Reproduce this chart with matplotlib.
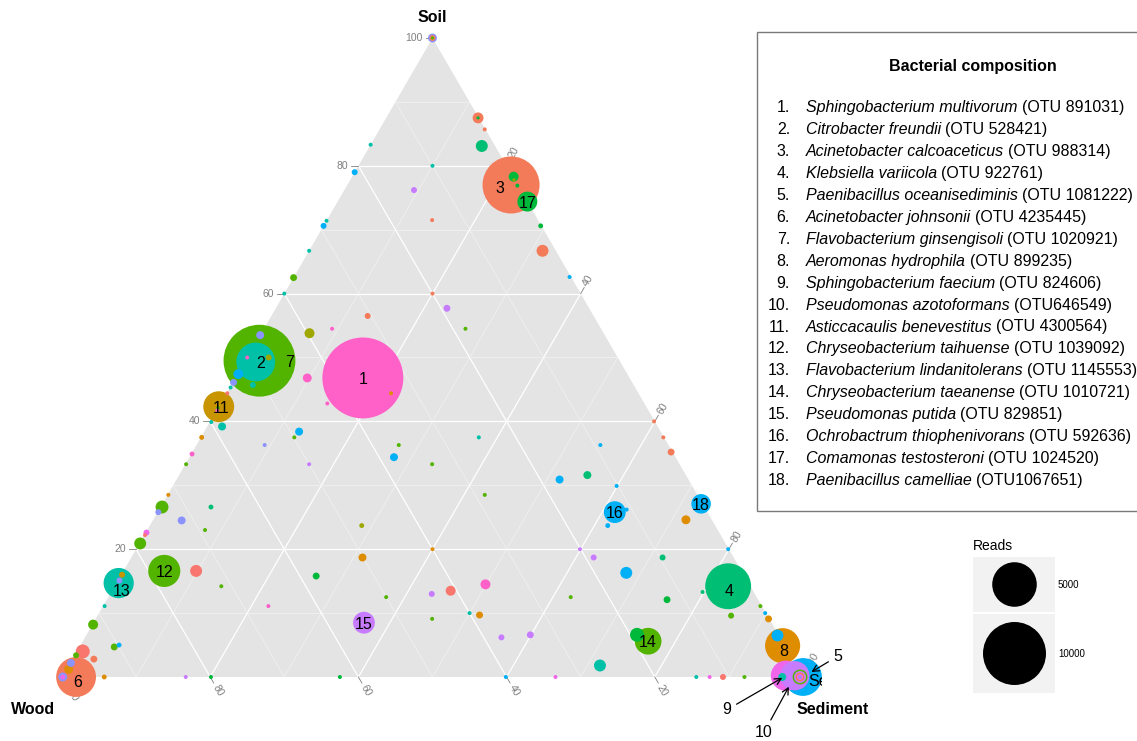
import numpy as np
import matplotlib
matplotlib.use('Agg')
import matplotlib.pyplot as plt
from matplotlib.patches import Rectangle, Polygon
from matplotlib.transforms import Bbox

plt.rcParams['font.family'] = ['Liberation Sans', 'DejaVu Sans']

# ---- named OTUs (soil %, sediment %, wood = rest) ----
otu_ids = list(range(1, 19))
otu_soil = [46.8, 49.3, 77.0, 14.2, 0.0, 0.0, 49.5, 4.9, 0.2, 0.2,
            42.3, 16.6, 14.7, 5.6, 8.5, 25.8, 74.4, 27.1]
otu_sed = [17.2, 1.5, 22.1, 82.8, 100.0, 1.9, 1.9, 94.8, 97.6, 98.8,
           0.0, 5.5, 0.3, 76.3, 36.5, 61.7, 25.6, 72.7]
otu_reads = [16500, 3800, 8200, 5300, 3600, 4000, 13000, 3100, 2300, 2150,
             2400, 2600, 2300, 1800, 1200, 1200, 1000, 960]
otu_color = ['pink', 'teal', 'salmon', 'emerald', 'blue', 'salmon', 'lime', 'orange',
             'magenta', 'purple', 'gold', 'lime', 'teal', 'lime', 'purple', 'blue',
             'green', 'blue']

otu_names = [
    ('Sphingobacterium multivorum', '(OTU 891031)'),
    ('Citrobacter freundii', '(OTU 528421)'),
    ('Acinetobacter calcoaceticus', '(OTU 988314)'),
    ('Klebsiella variicola', '(OTU 922761)'),
    ('Paenibacillus oceanisediminis', '(OTU 1081222)'),
    ('Acinetobacter johnsonii', '(OTU 4235445)'),
    ('Flavobacterium ginsengisoli', '(OTU 1020921)'),
    ('Aeromonas hydrophila', '(OTU 899235)'),
    ('Sphingobacterium faecium', '(OTU 824606)'),
    ('Pseudomonas azotoformans', '(OTU646549)'),
    ('Asticcacaulis benevestitus', '(OTU 4300564)'),
    ('Chryseobacterium taihuense', '(OTU 1039092)'),
    ('Flavobacterium lindanitolerans', '(OTU 1145553)'),
    ('Chryseobacterium taeanense', '(OTU 1010721)'),
    ('Pseudomonas putida', '(OTU 829851)'),
    ('Ochrobactrum thiophenivorans', '(OTU 592636)'),
    ('Comamonas testosteroni', '(OTU 1024520)'),
    ('Paenibacillus camelliae', '(OTU1067651)'),
]

# ---- all other OTUs ----
bg_soil = [100, 100, 100, 87.5, 87.5, 85.7, 83.1, 80.0, 71.5, 70.6, 66.7, 78.3, 77.8, 76.9,
           83.3, 79.0, 76.2, 71.4, 70.6, 66.7, 62.5, 60.0, 60.0, 56.5, 57.7, 54.5, 54.5,
           53.8, 46.8, 42.8, 44.4, 38.4, 37.5, 37.5, 62.6,
           53.5, 50.0, 50.0, 47.4, 46.1, 45.7, 45.3, 44.4, 42.1, 41.7, 39.9, 39.2, 37.5, 36.3,
           34.9, 33.3, 33.3, 36.3, 34.4, 33.3, 28.5, 26.6, 25.8, 24.5, 26.6, 23.0, 22.6, 22.2,
           20.9, 16.6, 14.2, 11.1, 11.1, 15.8, 18.7, 23.7, 12.5, 8.2, 4.7, 5.0, 4.0, 3.4, 2.8,
           0, 0, 0, 0, 0,
           0, 0, 1.2, 2.2, 16.0, 15.1,
           40.0, 37.5, 35.2, 36.3, 30.9, 31.6, 29.9, 28.5, 26.2, 23.7, 24.6, 20.0, 20.0, 18.7,
           16.3, 18.7, 20.0, 12.1, 13.3, 13.0, 13.5, 14.5, 12.5, 9.1, 10.0, 9.7, 6.6, 6.2, 1.8,
           0, 0, 0, 0, 0, 6.6, 11.1, 10.0, 9.1, 9.6, 6.5,
           0, 0, 0, 0, 0, 0]
bg_sed = [0, 0, 0, 12.4, 12.4, 14.2, 15.1, 10.0, 14.2, 29.3, 31.5, 21.8, 22.1, 23.0,
          0, 0, 9.4, 0, 0, 0, 0, 0, 20.0, 13.0, 23.1, 27.2, 9.2,
          6.5, 9.7, 14.4, 22.2, 12.8, 12.6, 37.5, 37.2,
          0, 2.9, 0, 0.1, 0.1, 2.9, 0.1, 0.1, 0, 0.1, 0.2, 2.0, 0.1, 9.2,
          0.1, 0.1, 16.7, 27.3, 27.6, 33.3, 0.1, 0.2, 0.1, 3.9, 6.8, 7.8, 0.1, 0.1,
          0.1, 9.8, 14.4, 0.2, 22.3, 26.4, 31.2, 28.6, 37.5, 0.1, 4.7, 5.2, 0.8, 0.2, 2.9,
          5.7, 16.7, 20.1, 37.5, 59.9,
          0.1, 0.1, 0.3, 0.1, 0.1, 0.2,
          59.9, 62.4, 64.6, 54.5, 51.7, 55.1, 59.9, 42.8, 63.1, 61.8, 71.9, 40.0, 59.9, 62.4,
          68.0, 71.7, 79.9, 75.6, 79.8, 43.4, 45.7, 49.9, 62.4, 45.4, 50.0, 51.5, 59.9, 56.2, 71.7,
          66.6, 85.6, 87.4, 89.2, 92.1, 74.3, 88.7, 89.9, 90.8, 85.5, 93.3,
          97.2, 99.6, 99.6, 99.6, 99.6, 99.6]
bg_reads = [200, 90, 25, 300, 25, 40, 360, 40, 40, 60, 360, 250, 25, 40,
            40, 90, 90, 40, 90, 40, 120, 40, 40, 90, 120, 40, 40,
            250, 200, 40, 40, 160, 40, 40, 40,
            160, 90, 40, 250, 120, 90, 40, 40, 40, 40, 40, 160, 60, 40,
            60, 40, 40, 40, 160, 40, 40, 420, 90, 160, 60, 40, 90, 40,
            360, 360, 40, 40, 40, 120, 160, 60, 40, 250, 120, 60, 490, 90, 120,
            60, 40, 40, 40, 40,
            200, 60, 200, 160, 90, 90,
            40, 40, 120, 40, 160, 160, 40, 40, 40, 60, 200, 40, 40, 90,
            360, 90, 40, 120, 40, 90, 250, 250, 40, 40, 40, 120, 120, 90, 360,
            40, 40, 40, 90, 40, 490, 40, 40, 120, 90, 360,
            160, 560, 360, 200, 90, 25]
bg_color = ['periwinkle', 'salmon', 'lime', 'salmon', 'green', 'salmon', 'emerald', 'teal',
            'salmon', 'green', 'salmon', 'green', 'olive', 'green',
            'teal', 'blue', 'purple', 'teal', 'blue', 'teal', 'lime', 'teal', 'salmon',
            'salmon', 'purple', 'lime', 'pink',
            'olive', 'pink', 'pink', 'orange', 'blue', 'lime', 'teal', 'blue',
            'periwinkle', 'olive', 'pink', 'blue', 'periwinkle', 'teal', 'teal', 'coral',
            'lime', 'pink', 'teal', 'teal', 'orange', 'periwinkle',
            'pink', 'lime', 'purple', 'lime', 'blue', 'lime', 'orange', 'lime', 'periwinkle',
            'periwinkle', 'emerald', 'lime', 'magenta', 'coral',
            'lime', 'coral', 'lime', 'teal', 'pink', 'green', 'orange', 'olive', 'lime', 'lime',
            'lime', 'blue', 'coral', 'lime', 'salmon',
            'orange', 'purple', 'green', 'green', 'blue',
            'periwinkle', 'magenta', 'orange', 'periwinkle', 'gold', 'periwinkle',
            'salmon', 'salmon', 'salmon', 'blue', 'blue', 'emerald', 'blue', 'lime', 'blue',
            'blue', 'orange', 'orange', 'purple', 'purple',
            'blue', 'emerald', 'blue', 'green', 'emerald', 'purple', 'coral', 'pink', 'lime',
            'lime', 'teal', 'orange', 'purple', 'purple', 'teal',
            'magenta', 'teal', 'magenta', 'coral', 'lime', 'green', 'lime', 'blue', 'orange',
            'lime', 'blue',
            'teal', 'lime', 'purple', 'salmon', 'magenta', 'periwinkle']

palette = {
    'salmon': '#F37B59', 'coral': '#F8766D', 'orange': '#DE8C00', 'gold': '#C89400',
    'olive': '#9DA700', 'lime': '#53B400', 'green': '#00B83A', 'emerald': '#00BE74',
    'teal': '#00C1A7', 'blue': '#00B0F6', 'periwinkle': '#8B93FF', 'purple': '#C77CFF',
    'magenta': '#F066EA', 'pink': '#FF61C9',
}

ticks = [20, 40, 60, 80, 100]
legend_reads = [5000, 10000]

W, H = 1137, 741
H3 = np.sqrt(3) / 2
SIZE_K = (63 * 0.72) ** 2 / 10000   # marker area per read


def tern(soil, sed):
    soil = np.asarray(soil, float)
    sed = np.asarray(sed, float)
    return (sed + soil / 2) / 100, soil / 100 * H3


fig = plt.figure(figsize=(W / 100, H / 100), dpi=100)
ax = fig.add_axes([62 / W, 64 / H, 741 / W, 639 / H])
ax.set_xlim(0, 1)
ax.set_ylim(0, H3)
ax.axis('off')

ax.add_patch(Polygon([(0, 0), (1, 0), (0.5, H3)], closed=True,
                     fc='#E4E4E4', ec='none', zorder=0))

# grid lines
for c in range(10, 100, 10):
    lw, col = (0.9, 'white') if c % 20 == 0 else (0.45, '#F4F4F4')
    segs = [(tern(c, 0), tern(c, 100 - c)),
            (tern(0, c), tern(100 - c, c)),
            (tern(0, 100 - c), tern(100 - c, 0))]
    for a, b in segs:
        ax.plot([a[0], b[0]], [a[1], b[1]], color=col, lw=lw, zorder=1,
                solid_capstyle='butt')

# axis ticks
L = 7 / 741
tick_kw = dict(color='#7F7F7F', fontsize=7.5, zorder=1, clip_on=False)
for c in ticks:
    x0, y0 = tern(c, 0)
    ax.plot([x0, x0 - L], [y0, y0], color='#7F7F7F', lw=0.6, clip_on=False, zorder=1)
    ax.text(x0 - L - 0.004, y0, str(c), ha='right', va='center', **tick_kw)

    x0, y0 = tern(100 - c, c)
    dx, dy = 0.5 * L, H3 * L
    ax.plot([x0, x0 + dx], [y0, y0 + dy], color='#7F7F7F', lw=0.6, clip_on=False, zorder=1)
    ax.text(x0 + dx * 1.35, y0 + dy * 1.35, str(c), rotation=60, ha='left', va='center',
            rotation_mode='anchor', **tick_kw)

    x0, y0 = tern(0, 100 - c)
    dx, dy = 0.5 * L, -H3 * L
    ax.plot([x0, x0 + dx], [y0, y0 + dy], color='#7F7F7F', lw=0.6, clip_on=False, zorder=1)
    ax.text(x0 + dx * 1.35, y0 + dy * 1.35, str(c), rotation=-60, ha='left', va='center',
            rotation_mode='anchor', **tick_kw)

# bubbles, largest first so the small ones stay visible
all_soil = np.array(otu_soil + bg_soil, float)
all_sed = np.array(otu_sed + bg_sed, float)
all_reads = np.array(otu_reads + bg_reads, float)
all_col = [palette[c] for c in otu_color + bg_color]
order = np.argsort(-all_reads, kind='stable')
px, py = tern(all_soil[order], all_sed[order])
ax.scatter(px, py, s=all_reads[order] * SIZE_K, c=[all_col[i] for i in order],
           linewidths=0, zorder=3, clip_on=False)

# number labels
label_offset = {2: (3.5, 0), 7: (21.5, 0), 3: (-8, -1.5), 4: (0.5, -3), 6: (1.5, -3),
                8: (1, -3), 11: (2, 0), 13: (2, -5)}
arrow_label = {9: ((-42.5, -24.5), 3), 10: ((-22.3, -41), 9), 5: ((25.2, 15.1), 7)}
for i, s, d in zip(otu_ids, otu_soil, otu_sed):
    x, y = tern(s, d)
    if i in arrow_label:
        off, shrink = arrow_label[i]
        ax.annotate(str(i), (x, y), xytext=off, textcoords='offset points',
                    ha='center', va='center', fontsize=11.5, zorder=6,
                    annotation_clip=False,
                    arrowprops=dict(arrowstyle='->', color='black', lw=0.9,
                                    shrinkA=2, shrinkB=shrink))
    else:
        ax.annotate(str(i), (x, y), xytext=label_offset.get(i, (0, 0)),
                    textcoords='offset points', ha='center', va='center_baseline',
                    fontsize=11.5, zorder=6, annotation_clip=False)

# overlay in pixel units for the legend and corner titles
lax = fig.add_axes([0, 0, 1, 1], zorder=5)
lax.set_xlim(0, W)
lax.set_ylim(H, 0)
lax.axis('off')

lax.text(432, 17, 'Soil', ha='center', va='center', fontsize=11.5, fontweight='bold')
lax.text(33, 710, 'Wood', ha='center', va='center', fontsize=11.5, fontweight='bold')
lax.text(833, 710, 'Sediment', ha='center', va='center', fontsize=11.5, fontweight='bold')

se = lax.text(808, 681, 'Se', ha='left', va='center', fontsize=11.5)
se.set_clip_box(Bbox.from_extents(0, 0, 822, H))
se.set_clip_on(True)

lax.add_patch(Rectangle((757, 32), 500, 479, fc='white', ec='#7A7A7A', lw=1, zorder=0,
                        clip_on=False))
lax.text(973, 67, 'Bacterial composition', ha='center', va='center',
         fontsize=11.5, fontweight='bold')

renderer = fig.canvas.get_renderer()
for k, (genus, otu) in enumerate(otu_names):
    y = 112 + k * 21.95
    lax.text(790, y, f'{k + 1}.', ha='right', va='baseline', fontsize=11.5)
    t = lax.text(806, y, genus, ha='left', va='baseline', fontsize=11.5, style='italic')
    bb = t.get_window_extent(renderer)
    lax.text(bb.x1 + 4, y, otu, ha='left', va='baseline', fontsize=11.5)

# size key
lax.text(973, 546, 'Reads', ha='left', va='center', fontsize=10)
lax.add_patch(Rectangle((973, 557), 82, 55, fc='#F2F2F2', ec='none'))
lax.add_patch(Rectangle((973, 614), 82, 79, fc='#F2F2F2', ec='none'))
for r, yc in zip(legend_reads, [584, 653]):
    lax.scatter([1014], [yc], s=r * SIZE_K, c='black', linewidths=0, zorder=3)
    lax.text(1058, yc + 1, str(r), ha='left', va='center', fontsize=7)

fig.savefig('out.png', dpi=100)
